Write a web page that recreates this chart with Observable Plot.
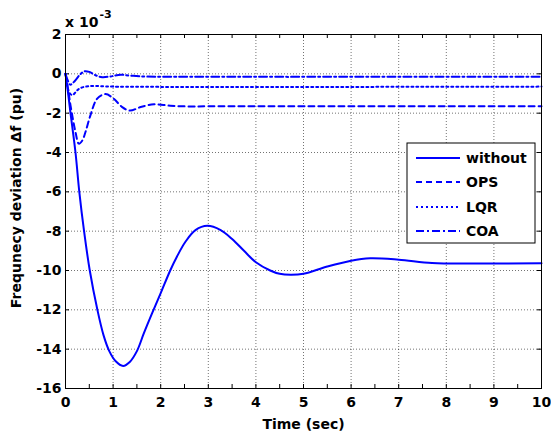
<!DOCTYPE html>
<html>
<head>
<meta charset="utf-8">
<script src="https://cdn.jsdelivr.net/npm/d3@7"></script>
<script src="https://cdn.jsdelivr.net/npm/@observablehq/plot@0.6"></script>
<style>
  html, body { margin: 0; padding: 0; background: #fff; }
  #chart { position: relative; width: 551px; height: 436px; }
</style>
</head>
<body>
<div id="chart"></div>
<script>
// Values in units of 1e-3 pu
const withoutT = [0, 0.05, 0.1, 0.21, 0.29, 0.39, 0.51, 0.67, 0.8, 0.92, 1.05, 1.21, 1.35, 1.5, 1.645, 1.82, 2.0, 2.2, 2.34, 2.52, 2.73, 2.98, 3.26, 3.5, 3.75, 4.0, 4.3, 4.5, 4.73, 5.0, 5.5, 6.0, 6.4, 7.0, 7.7, 8.5, 10];
const withoutV = [0, -0.9, -1.9, -4.0, -6.0, -8.0, -10.0, -12.0, -13.3, -14.1, -14.6, -14.85, -14.65, -14.1, -13.2, -12.17, -11.15, -10.0, -9.3, -8.54, -7.95, -7.73, -7.95, -8.4, -9.0, -9.58, -10.0, -10.17, -10.22, -10.17, -9.8, -9.5, -9.38, -9.45, -9.62, -9.65, -9.63];

const opsT = [0, 0.05, 0.105, 0.21, 0.28, 0.35, 0.42, 0.525, 0.666, 0.84, 1.01, 1.19, 1.35, 1.58, 1.86, 2.2, 2.6, 3, 10];
const opsV = [0, -0.7, -1.6, -2.96, -3.55, -3.4, -2.96, -2.1, -1.26, -1.03, -1.26, -1.69, -1.87, -1.69, -1.55, -1.62, -1.66, -1.65, -1.65];

const lqrT = [0, 0.07, 0.14, 0.28, 0.42, 0.6, 1, 10];
const lqrV = [0, -0.9, -1.08, -0.77, -0.65, -0.62, -0.65, -0.65];

const coaT = [0, 0.05, 0.1, 0.2, 0.3, 0.4, 0.5, 0.63, 0.77, 0.95, 1.16, 1.4, 1.7, 2.2, 10];
const coaV = [0, -0.35, -0.55, -0.35, -0.05, 0.13, 0.1, -0.07, -0.17, -0.13, -0.05, -0.1, -0.14, -0.15, -0.15];

const seriesNames = ["without", "OPS", "LQR", "COA"];
const seriesDash = {without: null, OPS: "6,4", LQR: "2,3", COA: "8,3,2,3"};

const xTicks = [0, 1, 2, 3, 4, 5, 6, 7, 8, 9, 10];
const xMinorTicks = [0.5, 1.5, 2.5, 3.5, 4.5, 5.5, 6.5, 7.5, 8.5, 9.5];
const yTicks = [2, 0, -2, -4, -6, -8, -10, -12, -14, -16];
const yLabel = "Frequnecy deviation \u0394f (pu)";

const toRows = (ts, vs) => ts.map((t, i) => ({t, v: vs[i]}));
const data = {
  without: toRows(withoutT, withoutV),
  OPS: toRows(opsT, opsV),
  LQR: toRows(lqrT, lqrV),
  COA: toRows(coaT, coaV)
};

const W = 551, H = 436, mL = 65, mR = 10, mT = 34, mB = 48;
const pw = W - mL - mR, ph = H - mT - mB;
const blue = "#0000ff";
const FONT = "'DejaVu Sans', sans-serif";

const allTicks = xTicks.concat(xMinorTicks);

const plot = Plot.plot({
  width: W, height: H,
  marginLeft: mL, marginRight: mR, marginTop: mT, marginBottom: mB,
  style: {fontFamily: FONT, fontSize: "14px", fontWeight: "bold", color: "#000", background: "#fff"},
  x: {domain: [0, 10]},
  y: {domain: [-16, 2]},
  marks: [
    Plot.gridX(xTicks, {stroke: "#000", strokeOpacity: 0.55, strokeDasharray: "1,2"}),
    Plot.gridY(yTicks, {stroke: "#000", strokeOpacity: 0.55, strokeDasharray: "1,2"}),
    Plot.axisX(xTicks, {tickSize: 0, tickPadding: 9, tickFormat: d => String(d), label: "Time (sec)", labelAnchor: "center", labelOffset: 40, labelArrow: "none", fontSize: 14, fontWeight: "bold"}),
    Plot.axisY(yTicks, {tickSize: 0, tickPadding: 4, tickFormat: d => String(d), label: null, fontSize: 14, fontWeight: "bold"}),
    // inward ticks
    Plot.ruleX(allTicks, {x: d => d, insetTop: ph - 4, stroke: "#000"}),
    Plot.ruleX(allTicks, {x: d => d, insetBottom: ph - 4, stroke: "#000"}),
    Plot.ruleY(yTicks, {y: d => d, insetRight: pw - 4, stroke: "#000"}),
    Plot.ruleY(yTicks, {y: d => d, insetLeft: pw - 4, stroke: "#000"}),
    ...seriesNames.map(name => Plot.line(data[name], {
      x: "t", y: "v", stroke: blue, strokeWidth: 2,
      strokeDasharray: seriesDash[name], curve: "catmull-rom"
    })),
    Plot.frame({stroke: "#000", strokeWidth: 1})
  ]
});

document.getElementById("chart").appendChild(plot);

const svg = d3.select(plot);

// Y axis title
svg.append("text")
  .attr("transform", "translate(21,198) rotate(-90)")
  .attr("text-anchor", "middle")
  .attr("font-family", FONT).attr("font-size", 14).attr("font-weight", "bold").attr("fill", "#000")
  .text(yLabel);

// Exponent label "x 10^-3"
const expText = svg.append("text")
  .attr("x", mL).attr("y", 27).attr("text-anchor", "start")
  .attr("font-family", FONT).attr("font-size", 14).attr("font-weight", "bold").attr("fill", "#000");
expText.append("tspan").text("x 10");
expText.append("tspan").attr("dx", 1).attr("dy", -9).attr("font-size", 11).text("-3");

// Legend box
const lg = {x: 407, y: 143, w: 128, h: 100};
const legend = svg.append("g");
legend.append("rect").attr("x", lg.x).attr("y", lg.y).attr("width", lg.w).attr("height", lg.h)
  .attr("fill", "#fff").attr("stroke", "#000").attr("stroke-width", 1);
const rowY = [158, 182, 207, 231];
seriesNames.forEach((name, i) => {
  legend.append("line").attr("x1", lg.x + 9).attr("x2", lg.x + 53)
    .attr("y1", rowY[i]).attr("y2", rowY[i])
    .attr("stroke", blue).attr("stroke-width", 2)
    .attr("stroke-dasharray", seriesDash[name] || null);
  legend.append("text").attr("x", lg.x + 59).attr("y", rowY[i]).attr("dy", "0.36em")
    .attr("text-anchor", "start")
    .attr("font-family", FONT).attr("font-size", 14).attr("font-weight", "bold").attr("fill", "#000").text(name);
});
</script>
</body>
</html>
